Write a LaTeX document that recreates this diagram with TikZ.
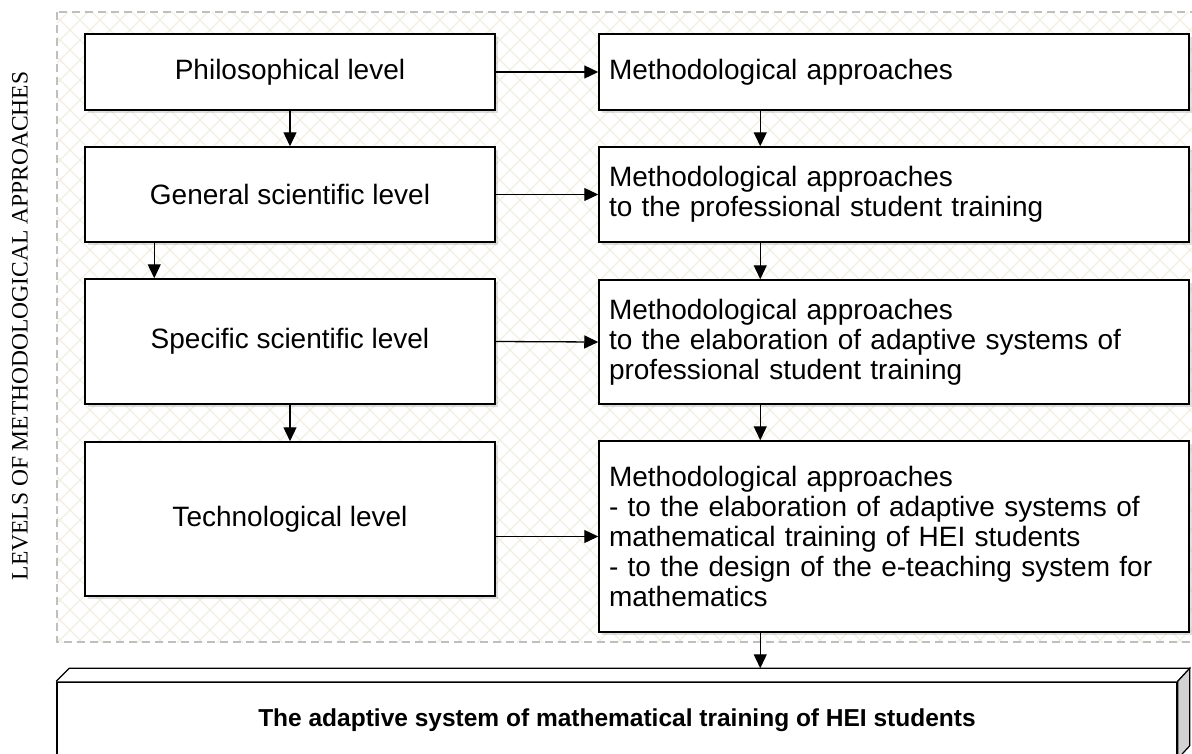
\documentclass[tikz,border=0pt]{standalone}
\usepackage{fontspec}
\setmainfont{Liberation Sans}
\newfontfamily\levelfont{Liberation Serif}
\usetikzlibrary{arrows.meta,shadows}
\definecolor{hatchcol}{HTML}{F1EFE4}
\tikzset{
	box/.style={draw,line width=1.5pt,fill=white,minimum width=410pt,align=center,
		drop shadow={shadow xshift=2.5pt,shadow yshift=-2.5pt,opacity=0.25},
		font=\fontsize{28}{30}\selectfont},
	appr/.style={box,minimum width=590pt,text width=570pt,inner xsep=10pt,align=left},
	hatch/.style={hatchcol,line width=1.2pt},
	arr/.style={->,line width=1.3pt}
}
\begin{document}
\begin{tikzpicture}[x=1pt,y=-1pt,>={Triangle[length=14pt,width=13pt]}]
	\useasboundingbox (0,0) rectangle (1192,753);
	% hatched field of the levels
	\begin{scope}
		\clip (57,12) rectangle (1200,642);
		\foreach \i in {-660,-640,...,1860}{
			\draw[hatch] (\i,0)--++(680,680);
			\draw[hatch] (\i,0)--++(-680,680);
		}
	\end{scope}
	\draw[gray!50,line width=1.3pt,dash pattern=on 8pt off 5pt] (57,12) rectangle (1200,642);
	\node[rotate=90,font=\levelfont\fontsize{23.5}{23.5}\selectfont] (lvl) at (20,326) {LEVELS OF METHODOLOGICAL APPROACHES};

	% levels
	\node[box,minimum height=76pt] (phil) at (290,72) {Philosophical level};
	\node[box,minimum height=95pt] (gen) at (290,194.5) {General scientific level};
	\node[box,minimum height=125pt] (spec) at (290,341.5) {Specific scientific level};
	\node[box,minimum height=154pt] (tech) at (290,519) {Technological level};

	% approaches
	\node[appr,minimum height=76pt] (ma) at (894,72) {Methodological approaches};
	\node[appr,minimum height=95pt] (mb) at (894,194.5) {Methodological approaches\\to the professional student training};
	\node[appr,minimum height=124pt] (mc) at (894,342) {Methodological approaches\\to the elaboration of adaptive systems of\\professional student training};
	\node[appr,minimum height=191pt] (md) at (894,536.5) {Methodological approaches\\- to the elaboration of adaptive systems of\\mathematical training of HEI students\\- to the design of the e-teaching system for\\mathematics};

	% the system, drawn as a slab
	\node[draw,line width=1.5pt,fill=white,minimum width=1120pt,minimum height=76pt,font=\bfseries\fontsize{24.5}{29.5}\selectfont] (sys) at (617,720) {The adaptive system of mathematical training of HEI students};
	\draw[line width=1.2pt,fill=white] (sys.north west)--++(13,-13)--([shift={(12,-13)}]sys.north east)--(sys.north east);
	\draw[line width=1.2pt,fill=gray!35] (sys.north east)--++(12,-13)--([shift={(12,-13)}]sys.south east)--(sys.south east)--cycle;
	\coordinate (systop) at ([yshift=13pt]sys.north);

	% arrows
	\draw[arr] (phil.south)--(gen.north);
	\draw[arr] ([xshift=70pt]gen.south west)--([xshift=70pt]spec.north west);
	\draw[arr] (spec.south)--(tech.north);
	\foreach \a/\b in {phil/ma,gen/mb,spec/mc}{
		\draw[arr] (\a.east)--(\b.west);
	}
	\draw[arr] (tech.east |- md.west)--(md.west);
	\foreach \a/\b in {ma/mb,mb/mc,mc/md}{
		\draw[arr] ([xshift=162pt]\a.south west)--([xshift=162pt]\b.north west);
	}
	\coordinate (mdout) at ([xshift=162pt]md.south west);
	\draw[arr] (mdout)--(mdout |- systop);
\end{tikzpicture}
\end{document}
